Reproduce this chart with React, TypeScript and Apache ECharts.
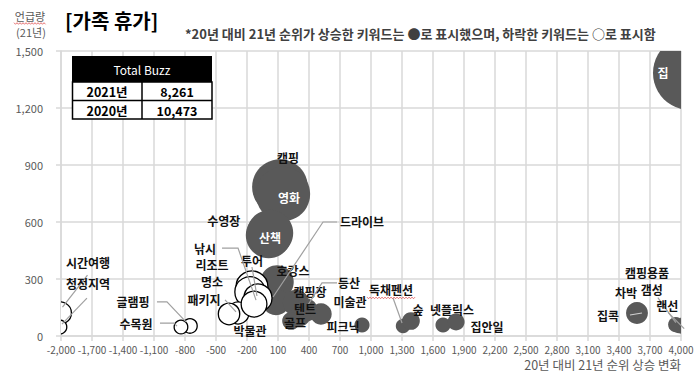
import React, { useEffect, useRef } from "react";
import * as echarts from "echarts";

// ---- axes ----
const X_MIN = -2000;
const X_MAX = 4000;
const X_STEP = 300;
const Y_MIN = 0;
const Y_MAX = 1500;
const Y_STEP = 300;

// ---- keywords whose rank rose (filled bubbles) ----
const RISING_NAMES = ["집", "캠핑", "영화", "수영장", "산책", "호캉스", "드라이브", "캠핑장", "등산", "텐트", "골프", "미술관", "피크닉", "독채펜션", "숲", "넷플릭스", "집안일", "집콕", "차박", "캠핑용품", "갬성", "랜선"];
const RISING_X = [4087, 119, 148, 10, 23, 90, 81, 274, 371, 313, 226, 516, 913, 1310, 1387, 1697, 1823, 3574, 3980, 4010, 3950, 4060];
const RISING_Y = [1384, 784, 747, 530, 542, 284, 179, 174, 137, 105, 79, 116, 58, 53, 79, 58, 74, 121, 52, 48, 60, 70];

// ---- keywords whose rank fell (open bubbles) ----
const FALLING_NAMES = ["시간여행", "청정지역", "글램핑", "수목원", "리조트", "명소", "박물관", "패키지", "투어", "낚시"];
const FALLING_X = [-2005, -2010, -752, -839, -152, -171, -287, -374, -94, -132];
const FALLING_Y = [121, 47, 53, 47, 258, 232, 121, 116, 200, 168];

// ---- totals table ----
const TABLE_YEARS = ["2021년", "2020년"];
const TABLE_TOTALS = ["8,261", "10,473"];

// ---- label placement relative to the bubble centre (pixels) ----
type Layout = { dx: number; dy: number; white?: boolean; leader?: number[][]; light?: boolean; squiggle?: boolean };
const LABEL_LAYOUT: Record<string, Layout> = {
  "집": { dx: -27, dy: -1, white: true },
  "캠핑": { dx: 8, dy: -30 },
  "영화": { dx: 6, dy: 3, white: true },
  "수영장": { dx: -45, dy: -15 },
  "산책": { dx: 0, dy: 4, white: true },
  "호캉스": { dx: 16, dy: -12 },
  "드라이브": { dx: 86, dy: -80, leader: [[61, -80], [47, -80], [-3, -5]] },
  "캠핑장": { dx: 14, dy: -11 },
  "등산": { dx: 43, dy: -27, leader: [[31, -27], [16, -27], [2, -5]] },
  "텐트": { dx: 5, dy: -8 },
  "골프": { dx: 4, dy: 2 },
  "미술관": { dx: 29, dy: -12 },
  "피크닉": { dx: -19, dy: 2 },
  "독채펜션": { dx: -12, dy: -36, leader: [[-10, -28], [-1, -3]], squiggle: true },
  "숲": { dx: 7, dy: -11 },
  "넷플릭스": { dx: 9, dy: -15 },
  "집안일": { dx: 31, dy: 5 },
  "집콕": { dx: -29, dy: 2, leader: [[-7, 2], [5, 0]], light: true },
  "차박": { dx: -53, dy: -34 },
  "캠핑용품": { dx: -35, dy: -54 },
  "갬성": { dx: -24, dy: -35, leader: [[-18, -27], [0, -2]] },
  "랜선": { dx: -20, dy: -17, leader: [[-19, -10], [-3, 6]] },
  "시간여행": { dx: 27.5, dy: -51, leader: [[27, -38], [2, -6]] },
  "청정지역": { dx: 28, dy: -44, leader: [[27, -29], [2, -3]] },
  "글램핑": { dx: -57, dy: -24, leader: [[-33, -24], [-23, -24], [-4, -4]] },
  "수목원": { dx: -45, dy: -4, leader: [[-21, -4], [-7, -4], [-4, -1]] },
  "리조트": { dx: -40, dy: -22 },
  "명소": { dx: -38, dy: -10 },
  "박물관": { dx: 12, dy: 17 },
  "패키지": { dx: -25, dy: -14, leader: [[-4, -14], [7, -2]] },
  "투어": { dx: -6, dy: -38, leader: [[-6, -31], [-1, -2]] },
  "낚시": { dx: -49, dy: -56, leader: [[-32, -56], [-16, -56], [2, -4]] },
};

const FONT = '"Noto Sans CJK KR", "Noto Sans", sans-serif';
const BUBBLE_SCALE = 0.995;
const FILL = "#595959";
const GRID_COLOR = "#d9d9d9";

function squigglePoints(x0: number, x1: number, y: number): number[][] {
  const pts: number[][] = [];
  let up = true;
  for (let x = x0; x <= x1; x += 1.5) {
    pts.push([x, up ? y - 0.8 : y + 0.8]);
    up = !up;
  }
  return pts;
}

function buildOption() {
  const risingData = RISING_X.map((x, i) => ({ name: RISING_NAMES[i], value: [x - X_MIN, RISING_Y[i]] }));
  const fallingData = FALLING_X.map((x, i) => ({ name: FALLING_NAMES[i], value: [x - X_MIN, FALLING_Y[i]] }));
  const allNames = [...RISING_NAMES, ...FALLING_NAMES];
  const labelData = [...risingData, ...fallingData];

  const bubble = (filled: boolean) => (params: any, api: any) => {
    const c = api.coord([api.value(0), api.value(1)]);
    const r = Math.sqrt(api.value(1)) * BUBBLE_SCALE;
    return {
      type: "circle",
      shape: { cx: c[0], cy: c[1], r },
      style: filled ? { fill: FILL } : { fill: "#ffffff", stroke: "#000000", lineWidth: 1.3 },
    };
  };

  const labelRender = (params: any, api: any) => {
    const c = api.coord([api.value(0), api.value(1)]);
    const name = allNames[params.dataIndex];
    const lay = LABEL_LAYOUT[name] || { dx: 0, dy: 0 };
    const children: any[] = [];
    if (lay.leader) {
      children.push({
        type: "polyline",
        shape: { points: lay.leader.map((p) => [c[0] + p[0], c[1] + p[1]]) },
        style: { stroke: lay.light ? "#d0d0d0" : "#a0a0a0", lineWidth: 1.2, fill: null },
      });
    }
    children.push({
      type: "text",
      x: c[0] + lay.dx,
      y: c[1] + lay.dy,
      style: {
        text: name,
        fill: lay.white ? "#ffffff" : "#111111",
        fontSize: 12,
        fontWeight: "bold",
        fontFamily: FONT,
        align: "center",
        verticalAlign: "middle",
      },
    });
    if (lay.squiggle) {
      const w = name.length * 12;
      children.push({
        type: "polyline",
        shape: { points: squigglePoints(c[0] + lay.dx - w / 2, c[0] + lay.dx + w / 2, c[1] + lay.dy + 8) },
        style: { stroke: "#e05050", lineWidth: 0.8, fill: null },
      });
    }
    return { type: "group", children };
  };

  const axisLine = { show: true, lineStyle: { color: GRID_COLOR, width: 1.5 } };

  const tableChildren: any[] = [
    { type: "rect", shape: { x: 72, y: 56, width: 140, height: 26 }, style: { fill: "#000000" } },
    {
      type: "text", x: 142, y: 69,
      style: { text: "Total Buzz", fill: "#ffffff", fontSize: 12, fontFamily: FONT, align: "center", verticalAlign: "middle" },
    },
    { type: "rect", shape: { x: 72.5, y: 82, width: 139.5, height: 37 }, style: { fill: "#ffffff", stroke: "#000000", lineWidth: 1.5 } },
    { type: "line", shape: { x1: 72, y1: 100.5, x2: 212, y2: 100.5 }, style: { stroke: "#000000", lineWidth: 1.5 } },
    { type: "line", shape: { x1: 142, y1: 82, x2: 142, y2: 119 }, style: { stroke: "#000000", lineWidth: 1.5 } },
  ];
  TABLE_YEARS.forEach((yr, i) => {
    const y = 91.5 + i * 19;
    tableChildren.push({
      type: "text", x: 107, y,
      style: { text: yr, fill: "#000", fontSize: 12.5, fontWeight: "bold", fontFamily: FONT, align: "center", verticalAlign: "middle" },
    });
    tableChildren.push({
      type: "text", x: 177, y,
      style: { text: TABLE_TOTALS[i], fill: "#000", fontSize: 12.5, fontWeight: "bold", fontFamily: FONT, align: "center", verticalAlign: "middle" },
    });
  });

  return {
    animation: false,
    backgroundColor: "#ffffff",
    grid: { left: 61, right: 18, top: 51, bottom: 37, containLabel: false, outerBoundsMode: "none" },
    xAxis: {
      type: "value",
      min: 0,
      max: X_MAX - X_MIN,
      interval: X_STEP,
      axisLine,
      axisTick: { show: true, length: 5, lineStyle: { color: GRID_COLOR, width: 1.5 } },
      splitLine: { show: true, lineStyle: { color: GRID_COLOR, width: 1.5 } },
      axisLabel: {
        formatter: (v: number) => (v + X_MIN).toLocaleString("en-US"),
        color: "#595959",
        fontSize: 10,
        fontFamily: FONT,
        margin: 8,
        showMinLabel: true,
        showMaxLabel: true,
      },
    },
    yAxis: {
      type: "value",
      min: Y_MIN,
      max: Y_MAX,
      interval: Y_STEP,
      axisLine,
      axisTick: { show: true, length: 5, lineStyle: { color: GRID_COLOR, width: 1.5 } },
      splitLine: { show: true, lineStyle: { color: GRID_COLOR, width: 1.5 } },
      axisLabel: {
        formatter: (v: number) => v.toLocaleString("en-US"),
        color: "#595959",
        fontSize: 11,
        fontFamily: FONT,
        margin: 18,
      },
    },
    graphic: [
      {
        type: "text", left: 65, top: 10, z: 100,
        style: { text: "[가족 휴가]", fill: "#000", fontSize: 20, fontWeight: "bold", fontFamily: FONT },
      },
      {
        type: "text", x: 185, y: 33, z: 100,
        style: {
          text: "*20년 대비 21년 순위가 상승한 키워드는 ●로 표시했으며, 하락한 키워드는 ○로 표시함",
          fill: "#404040", fontSize: 13, fontWeight: "bold", fontFamily: FONT, verticalAlign: "middle",
        },
      },
      {
        type: "text", x: 30, y: 16, z: 100,
        style: { text: "언급량", fill: "#595959", fontSize: 11, fontFamily: FONT, align: "center", verticalAlign: "middle" },
      },
      {
        type: "polyline", z: 100,
        shape: { points: squigglePoints(14, 46, 23.5) },
        style: { stroke: "#e05050", lineWidth: 0.8, fill: null },
      },
      {
        type: "text", x: 31, y: 31.5, z: 100,
        style: { text: "(21년)", fill: "#595959", fontSize: 11, fontFamily: FONT, align: "center", verticalAlign: "middle" },
      },
      {
        type: "text", x: 681, y: 364.5, z: 100,
        style: { text: "20년 대비 21년 순위 상승 변화", fill: "#595959", fontSize: 12.5, fontFamily: FONT, align: "right", verticalAlign: "middle" },
      },
      { type: "group", z: 100, children: tableChildren.map((c) => ({ ...c, z: 100 })) },
    ],
    series: [
      {
        type: "custom",
        coordinateSystem: "cartesian2d",
        clip: true,
        silent: true,
        data: risingData,
        renderItem: bubble(true),
      },
      {
        type: "custom",
        coordinateSystem: "cartesian2d",
        clip: true,
        silent: true,
        data: fallingData,
        renderItem: bubble(false),
      },
      {
        type: "custom",
        coordinateSystem: "cartesian2d",
        clip: false,
        silent: true,
        data: labelData,
        renderItem: labelRender,
      },
    ],
  };
}

export default function App() {
  const ref = useRef<HTMLDivElement>(null);
  useEffect(() => {
    document.body.style.margin = "0";
    const chart = echarts.init(ref.current!, undefined, { renderer: "svg" });
    chart.setOption(buildOption() as any);
    return () => chart.dispose();
  }, []);
  return <div ref={ref} style={{ width: 699, height: 373 }} />;
}
